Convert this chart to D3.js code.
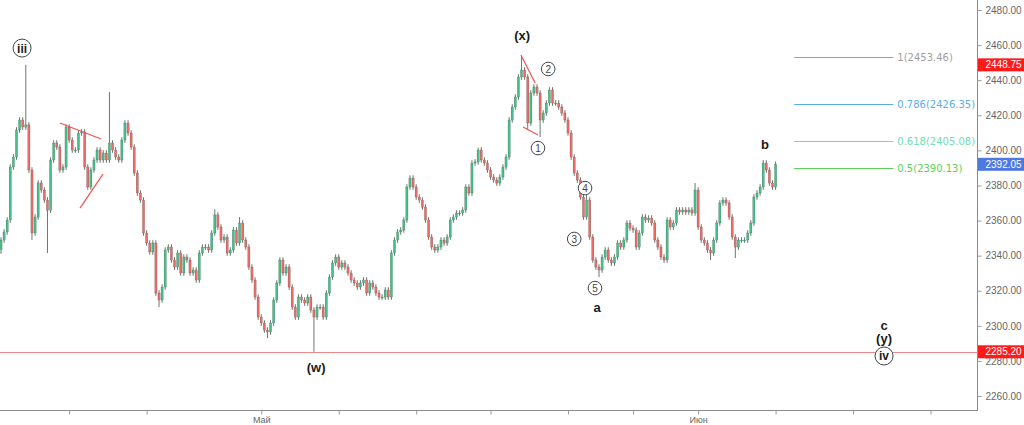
<!DOCTYPE html>
<html><head><meta charset="utf-8">
<script src="https://cdn.jsdelivr.net/npm/d3@7"></script>
<style>body{margin:0;background:#fff}svg{display:block}</style>
</head><body><svg id="c" width="1024" height="425"></svg>
<script>
// ---- DATA ----
const firstOpen = 2343.5;
const closes = [
  2348.9, 2353.5, 2360.3, 2390.5, 2396.2, 2411.6, 2417.3, 2413.3, 2414.5, 2388.8,
  2352.9, 2362.0, 2381.4, 2377.4, 2371.7, 2365.9, 2394.5, 2404.2, 2401.9, 2388.8,
  2390.5, 2413.3, 2405.9, 2400.2, 2400.2, 2409.9, 2410.5, 2390.5, 2379.1, 2388.8,
  2394.5, 2400.2, 2394.5, 2398.5, 2394.5, 2404.2, 2400.2, 2396.2, 2394.5, 2405.9,
  2415.6, 2409.9, 2401.9, 2387.1, 2375.7, 2371.7, 2352.9, 2347.2, 2342.1, 2347.2,
  2318.7, 2314.7, 2322.1, 2343.2, 2344.9, 2337.5, 2333.5, 2341.5, 2330.1, 2339.2,
  2337.5, 2330.1, 2331.8, 2326.1, 2341.5, 2344.9,
  2344.9, 2343.2, 2352.9, 2363.2, 2356.3, 2348.9, 2350.6, 2341.5, 2343.2, 2354.6,
  2347.2, 2358.6, 2348.9, 2344.9, 2333.5, 2326.1, 2316.4, 2305.0, 2301.6, 2297.6,
  2296.5, 2301.6, 2314.7, 2324.4, 2337.5, 2330.1, 2333.5, 2322.1, 2310.7, 2305.0,
  2316.4, 2314.7, 2313.0, 2316.4, 2309.0, 2305.0, 2310.7, 2310.7, 2305.0, 2318.7,
  2327.8, 2335.8, 2339.2, 2333.5, 2335.8, 2333.5, 2330.1, 2326.1, 2324.4, 2322.1,
  2324.4, 2326.1, 2318.7, 2324.4, 2322.1, 2318.7, 2316.4, 2316.4, 2320.4, 2316.4,
  2341.5, 2348.9, 2353.5,
  2354.6, 2360.3, 2379.1, 2384.2, 2379.1, 2373.4, 2371.7, 2367.7, 2360.3, 2350.6,
  2344.9, 2343.2, 2344.9, 2348.9, 2347.2, 2350.6, 2360.3, 2362.0, 2364.3, 2364.3,
  2366.0, 2379.1, 2375.7, 2392.8, 2393.4, 2400.2, 2394.5, 2392.8, 2388.8, 2384.8,
  2383.1, 2381.4, 2384.8, 2390.5, 2396.2, 2417.3, 2424.7, 2430.4, 2441.8, 2445.8,
  2441.8, 2415.6, 2432.7, 2436.1, 2432.7, 2417.3, 2421.3, 2427.0, 2434.4, 2427.0,
  2427.0, 2424.7, 2421.3, 2417.3, 2409.9, 2396.2, 2387.1, 2383.1, 2373.4, 2362.0,
  2371.7, 2350.6, 2337.5, 2333.5, 2331.8, 2339.2, 2343.2, 2337.5, 2335.8, 2339.2,
  2347.2, 2344.9, 2348.9, 2358.6, 2355.7, 2354.6, 2344.9, 2352.9, 2362.0, 2360.3,
  2361.4, 2358.6, 2348.9, 2344.9, 2339.2, 2337.5, 2360.3, 2356.3, 2358.6, 2366.0,
  2364.9, 2366.0, 2364.9, 2366.0, 2364.3, 2377.4, 2356.3, 2348.9, 2347.2, 2343.2,
  2341.5, 2348.9, 2358.6, 2370.0, 2371.7, 2370.0, 2362.0, 2350.6, 2344.9, 2348.9,
  2348.9, 2348.9, 2352.9, 2358.6, 2373.4, 2375.7, 2379.1, 2392.8, 2388.8, 2381.4,
  2379.1, 2392.05
];
const highBars = [8, 35, 69, 77, 154, 168, 189, 224, 246];
const highVals = [2448.75, 2433.3, 2366.5, 2362.0, 2401.5, 2453.46, 2374.5, 2381.4, 2394.5];
const lowBars = [0, 10, 15, 51, 86, 101, 170, 174, 193, 229, 237];
const lowVals = [2341.0, 2349.0, 2341.5, 2310.7, 2293.0, 2285.2, 2411.6, 2407.6, 2327.8, 2337.5, 2338.6];

const priceTicks = [2260, 2280, 2300, 2320, 2340, 2360, 2380, 2400, 2420, 2440, 2460, 2480];
const timeTickBars = [22, 47, 84, 109, 134, 158, 183, 204, 225, 250, 275, 300];
const timeTickLabels = ["", "", "Май", "", "", "", "", "", "Июн", "", "", ""];

const fibRatios = ["1", "0.786", "0.618", "0.5"];
const fibValues = [2453.46, 2426.35, 2405.08, 2390.13];
const fibBars = [256, 288];

const supportLevel = 2285.20;
const markedPrices = [2448.75, 2392.05, 2285.20];

const trendBars = [[19, 32.3], [25.5, 32.9], [167.8, 172.4], [168.5, 173.3]];
const trendPrices = [[2415.6, 2406.5], [2367.1, 2386.5], [2454.4, 2438.4], [2413.3, 2408.8]];

const boldLabels = ["(x)", "(w)", "a", "b", "c", "(y)"];
const boldBars = [168.2, 101.7, 192.4, 246.6, 285, 285];
const boldPrices = [2465.2, 2276.0, 2310.2, 2403.1, 2299.9, 2292.5];

const circleLabels = ["iii", "2", "1", "4", "3", "5", "iv"];
const circleBars = [6.8, 176.6, 173.3, 188.5, 185.0, 191.7, 285];
const circlePrices = [2458.3, 2446.4, 2401.3, 2378.5, 2349.5, 2321.5, 2282.8];

// ---- STYLE ----
const fibColors = ["#a0a0a0", "#5aaee0", "#6fdcb4", "#5ccf5c"];
const markColors = ["#ff1a1a", "#4f78e0", "#ff1a1a"];
const upColor = "#45c08a", downColor = "#ee6b68", wickColor = "#3e4c44";
const wickPad = 1.6;

const svg = d3.select("#c");
const W = 977, H = 410;
const x = d3.scaleLinear().domain([0, 315]).range([1, W]);
const y = d3.scaleLinear().domain([2260, 2480]).range([396, 10]);

svg.append("rect").attr("width", 1024).attr("height", 425).attr("fill", "#fff");
svg.append("defs").append("clipPath").attr("id", "clip")
  .append("rect").attr("x", 0).attr("y", 0).attr("width", W).attr("height", H);

const highMap = new Map(highBars.map((b, i) => [b, highVals[i]]));
const lowMap = new Map(lowBars.map((b, i) => [b, lowVals[i]]));
const candles = closes.map((c, i) => {
  const o = i ? closes[i - 1] : firstOpen;
  return {
    i, o, c,
    h: highMap.has(i) ? highMap.get(i) : Math.max(o, c) + wickPad,
    l: lowMap.has(i) ? lowMap.get(i) : Math.min(o, c) - wickPad
  };
});

const plot = svg.append("g").attr("clip-path", "url(#clip)");

// support line
plot.append("line").attr("class", "support")
  .attr("x1", 0).attr("x2", W)
  .attr("y1", Math.round(y(supportLevel)) + 0.5).attr("y2", Math.round(y(supportLevel)) + 0.5)
  .style("stroke", "#f08a8a").style("stroke-width", 1);

// candles
const cg = plot.append("g");
cg.selectAll("line.wick").data(candles).join("line").attr("class", "wick")
  .attr("x1", d => x(d.i)).attr("x2", d => x(d.i))
  .attr("y1", d => y(d.h)).attr("y2", d => y(d.l))
  .style("stroke", wickColor).style("stroke-width", 0.9).style("stroke-opacity", 0.85);
cg.selectAll("rect.body").data(candles).join("rect").attr("class", "body")
  .attr("x", d => x(d.i) - 1.1).attr("width", 2.2)
  .attr("y", d => y(Math.max(d.o, d.c)))
  .attr("height", d => Math.max(1, Math.abs(y(d.o) - y(d.c))))
  .style("fill", d => d.c >= d.o ? upColor : downColor)
  .style("stroke", "#2f4037").style("stroke-width", 0.35).style("stroke-opacity", 0.6);

// trend lines
plot.selectAll("line.trend").data(trendBars).join("line").attr("class", "trend")
  .attr("x1", d => x(d[0])).attr("x2", d => x(d[1]))
  .attr("y1", (d, i) => y(trendPrices[i][0])).attr("y2", (d, i) => y(trendPrices[i][1]))
  .style("stroke", "#f05050").style("stroke-width", 1.2);

// fib lines
const fibG = svg.append("g");
fibG.selectAll("line.fib").data(fibValues).join("line").attr("class", "fib")
  .attr("x1", x(fibBars[0])).attr("x2", x(fibBars[1]))
  .attr("y1", v => Math.round(y(v)) + 0.5).attr("y2", v => Math.round(y(v)) + 0.5)
  .style("stroke", (v, i) => fibColors[i]).style("stroke-width", 1);
fibG.selectAll("text.fib").data(fibValues).join("text").attr("class", "fib")
  .attr("x", x(fibBars[1]) + 4).attr("y", v => Math.round(y(v)) + 0.5)
  .attr("dominant-baseline", "central")
  .attr("font-family", "DejaVu Sans, sans-serif").attr("font-size", 10)
  .style("fill", (v, i) => fibColors[i])
  .text((v, i) => `${fibRatios[i]}(${v.toFixed(2)})`);

// bold wave labels
boldLabels.forEach((t, i) => {
  svg.append("text").attr("x", x(boldBars[i])).attr("y", y(boldPrices[i]))
    .attr("text-anchor", "middle").attr("dominant-baseline", "central")
    .attr("font-family", "Liberation Sans, Arial, sans-serif").attr("font-weight", "bold")
    .attr("font-size", 13).attr("fill", "#1a1a1a").text(t);
});

// circled labels
circleLabels.forEach((t, i) => {
  const big = t.length > 1;
  const cx = x(circleBars[i]), cy = y(circlePrices[i]);
  svg.append("circle").attr("cx", cx).attr("cy", cy).attr("r", big ? 9 : 6.8)
    .attr("fill", "#fff").attr("stroke", "#444").attr("stroke-width", 1);
  svg.append("text").attr("x", cx).attr("y", cy + 0.5)
    .attr("text-anchor", "middle").attr("dominant-baseline", "central")
    .attr("font-family", "Liberation Sans, Arial, sans-serif")
    .attr("font-weight", big ? "bold" : "normal")
    .attr("font-size", big ? 12 : 10).attr("fill", big ? "#1a1a1a" : "#444").text(t);
});

// axes
svg.append("line").attr("x1", W + 0.5).attr("x2", W + 0.5).attr("y1", 0).attr("y2", H + 1)
  .style("stroke", "#8a8a8a");
svg.append("line").attr("x1", 0).attr("x2", W + 1).attr("y1", H + 0.5).attr("y2", H + 0.5)
  .style("stroke", "#8a8a8a");

const ya = svg.append("g").attr("transform", `translate(${W + 0.5},0)`)
  .call(d3.axisRight(y).tickValues(priceTicks).tickFormat(d3.format(".2f")).tickSize(4).tickPadding(4));
ya.select(".domain").remove();
ya.selectAll("line").style("stroke", "#9a9a9a");
ya.selectAll("text").attr("font-family", "Liberation Sans, Arial, sans-serif").attr("font-size", 10).attr("fill", "#666");

const xa = svg.append("g").attr("transform", `translate(0,${H + 0.5})`)
  .call(d3.axisBottom(x).tickValues(timeTickBars).tickFormat((d, i) => timeTickLabels[i]).tickSize(4).tickPadding(2));
xa.select(".domain").remove();
xa.selectAll("line").style("stroke", "#9a9a9a");
xa.selectAll("text").attr("font-family", "Liberation Sans, Arial, sans-serif").attr("font-size", 9).attr("fill", "#666");

// price markers on axis
markedPrices.forEach((p, i) => {
  const yy = y(p);
  svg.append("rect").attr("x", W + 1).attr("y", yy - 6.5).attr("width", 1024 - W).attr("height", 13)
    .style("fill", markColors[i]);
  svg.append("text").attr("x", W + 8.5).attr("y", yy).attr("dominant-baseline", "central")
    .attr("font-family", "Liberation Sans, Arial, sans-serif").attr("font-size", 10)
    .style("fill", "#fff").text(p.toFixed(2));
});
</script></body></html>
